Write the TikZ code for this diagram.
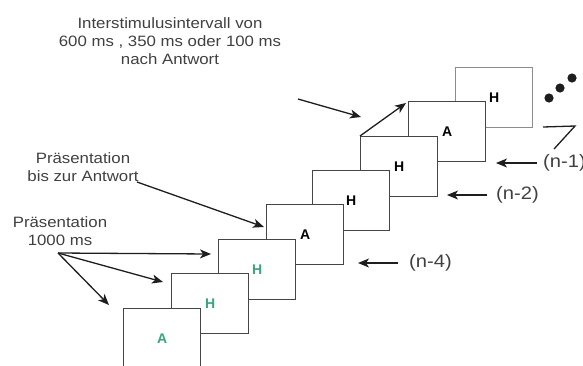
\documentclass[tikz,border=0pt]{standalone}
\usepackage{fontspec}
\setmainfont{Liberation Sans}
\newfontfamily\labelfont[FakeStretch=1.12]{Liberation Sans}
\usetikzlibrary{arrows.meta}
\definecolor{cardline}{HTML}{454545}
\definecolor{cardpale}{HTML}{8C8C8C}
\definecolor{stimgreen}{HTML}{3AA57A}
\definecolor{inkdark}{HTML}{1E1E1E}

\begin{document}
\begin{tikzpicture}[x=1pt,y=-1pt,
  card/.style={draw=cardline, fill=white, line width=1.4pt,
    minimum width=77pt, minimum height=60pt, inner sep=0pt, anchor=north west},
  letter/.style={font=\fontsize{14}{14}\selectfont\bfseries, inner sep=0pt},
  greenletter/.style={letter, text=stimgreen},
  caption/.style={font=\labelfont\fontsize{15}{18}\selectfont, align=center, text=inkdark!85},
  trialtag/.style={font=\labelfont\fontsize{18}{18}\selectfont, text=inkdark!85,
    inner sep=0pt, anchor=west},
  ptr/.style={draw=inkdark, line width=1.3pt, -{Stealth[length=11pt,width=9pt,inset=3pt]}},
]
\useasboundingbox (0,0) rectangle (583,365);

% stimulus screens, drawn from the last (back) to the first (front)
\node[card, draw=cardpale] (c8) at (455,67) {};
\node[card] (c7) at (408,101) {};
\node[card] (c6) at (360,136) {};
\node[card] (c5) at (312,170) {};
\node[card] (c4) at (266,204) {};
\node[card] (c3) at (218,239) {};
\node[card] (c2) at (171,273) {};
\node[card] (c1) at (123,308) {};

% letters shown on the screens
\node[greenletter] (l1) at (c1.center) {A};
\node[greenletter] (l2) at (c2.center) {H};
\node[greenletter] (l3) at (c3.center) {H};
\node[letter] (l4) at (c4.center) {A};
\node[letter] (l5) at (c5.center) {H};
\node[letter] (l6) at (c6.center) {H};
\node[letter] (l7) at (c7.center) {A};
\node[letter] (l8) at (c8.center) {H};

% captions
\node[caption] (iv) at (170,41) {Interstimulusintervall von\\600 ms , 350 ms oder 100 ms\\nach Antwort};
\node[caption] (pbis) at (83,167) {Präsentation\\bis zur Antwort};
\node[caption] (pfix) at (60,231) {Präsentation\\1000 ms};

% interval arrows
\coordinate (ivtail) at (298,99);
\coordinate (ivtip) at (361,117);
\draw[ptr] (ivtail) -- (ivtip);
\coordinate (gaptip) at (406,103);
\draw[ptr] (c6.north west) -- (gaptip);

% presentation until response
\coordinate (bistail) at (137,182);
\coordinate (bistip) at (264,227);
\draw[ptr] (bistail) -- (bistip);

% fixed presentation
\coordinate (fixtail) at (58,253);
\coordinate (fixa) at (211,254);
\coordinate (fixb) at (163,282);
\coordinate (fixc) at (109,305);
\draw[ptr] (fixtail) -- (fixa);
\draw[ptr] (fixtail) -- (fixb);
\draw[ptr] (fixtail) -- (fixc);

% trial indices
\node[trialtag] (n1) at (543,163) {(n-1)};
\node[trialtag] (n2) at (496,195) {(n-2)};
\node[trialtag] (n4) at (409,263) {(n-4)};
\coordinate (n1tail) at (537,163);
\coordinate (n2tail) at (487,195);
\coordinate (n4tail) at (398,263);
\coordinate (n1tip) at (496,163);
\coordinate (n2tip) at (447,195);
\coordinate (n4tip) at (358,263);
\draw[ptr] (n1tail) -- (n1tip);
\draw[ptr] (n2tail) -- (n2tip);
\draw[ptr] (n4tail) -- (n4tip);

% continuation marks
\fill[inkdark] (549,98) circle[radius=4.6pt];
\fill[inkdark] (560,88) circle[radius=4.6pt];
\fill[inkdark] (572,78) circle[radius=4.6pt];
\draw[inkdark, line width=1.3pt] (543,127) -- (575,126) -- (554,149);
\end{tikzpicture}
\end{document}
